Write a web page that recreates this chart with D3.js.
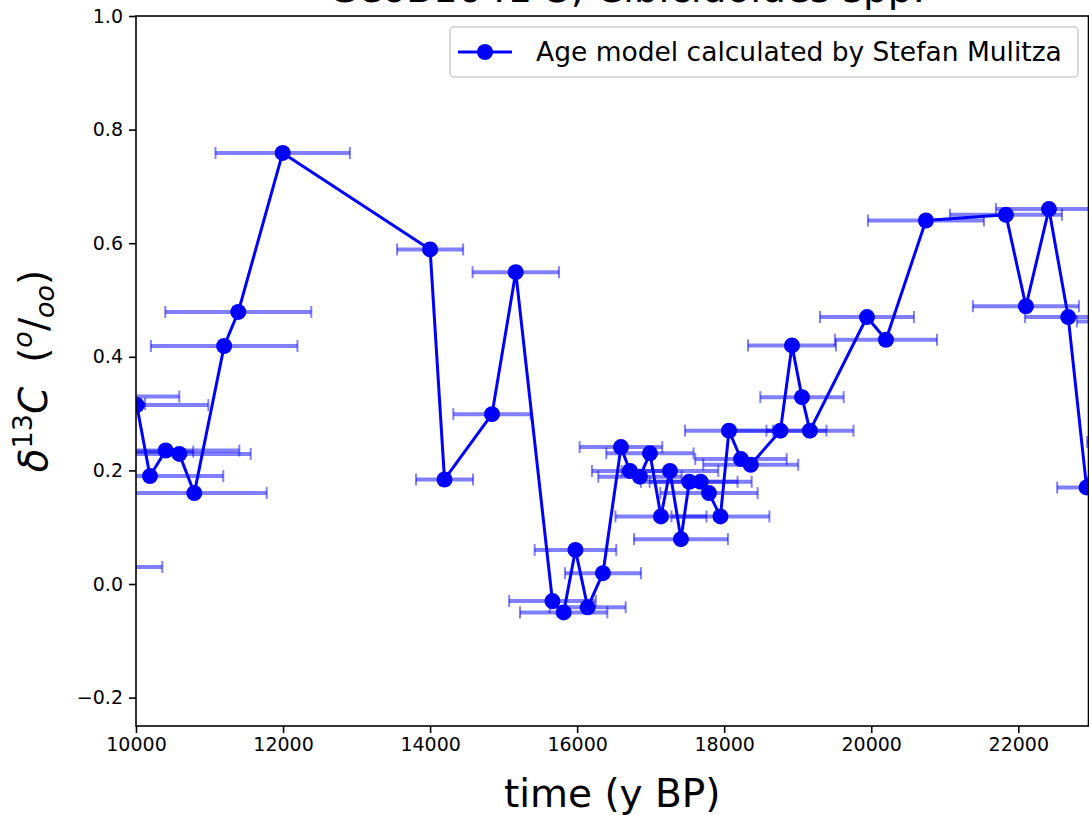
<!DOCTYPE html>
<html><head><meta charset="utf-8">
<script src="https://cdn.jsdelivr.net/npm/d3@7"></script>
<style>body{margin:0;background:#fff}svg{display:block}text{font-family:"DejaVu Sans",sans-serif}</style>
</head><body>
<svg id="c" width="1089" height="815"></svg>
<script>
// ---- data ----
const ageYears = [9143, 9378, 9609, 9799,
  10010, 10190, 10404, 10589, 10793, 11199, 11391, 11995, 14000, 14196, 14842, 15165,
  15664, 15817, 15977, 16143, 16351, 16596, 16718, 16854, 16990, 17140, 17262, 17412,
  17525, 17680, 17793, 17949, 18065, 18228, 18361, 18765, 18922, 19058, 19166, 19942,
  20200, 20744, 21832, 22104, 22417, 22679, 22929,
  23476, 23547];
const d13C = [0.317, 0.030, 0.330, 0.233,
  0.315, 0.190, 0.235, 0.229, 0.160, 0.419, 0.479, 0.759, 0.589, 0.184, 0.299, 0.549,
  -0.030, -0.050, 0.060, -0.041, 0.019, 0.241, 0.199, 0.189, 0.230, 0.119, 0.199, 0.079,
  0.180, 0.180, 0.160, 0.119, 0.270, 0.220, 0.210, 0.270, 0.420, 0.329, 0.270, 0.470,
  0.430, 0.640, 0.650, 0.489, 0.660, 0.470, 0.170,
  0.462, 0.250];
const ageErr = [980, 980, 980, 980,
  974, 997, 1001, 971, 985, 997, 993, 914, 449, 388, 526, 588,
  589, 594, 555, 517, 517, 562, 517, 567, 594, 619, 657, 639,
  657, 694, 662, 666, 598, 622, 646, 626, 598, 567, 592, 639,
  694, 789, 762, 721, 721, 589, 400,
  680, 610];
const xTicks = [10000, 12000, 14000, 16000, 18000, 20000, 22000];
const yTicks = [-0.2, 0.0, 0.2, 0.4, 0.6, 0.8, 1.0];
const xDomain = [10000, 22955];
const yDomain = [-0.25, 1.0];
const titleText = "GeoB1041-3, Cibicidoides spp.";
const xLabel = "time (y BP)";
const legendLabel = "Age model calculated by Stefan Mulitza";

// ---- layout ----
const L = 136, T = 16, R = 1088.5, B = 726;
const svg = d3.select("#c");
const x = d3.scaleLinear().domain(xDomain).range([L, R]);
const y = d3.scaleLinear().domain(yDomain).range([B, T]);
const data = ageYears.map((t, i) => ({t, v: d13C[i], e: ageErr[i]}));

svg.append("clipPath").attr("id", "clip").append("rect")
  .attr("x", L).attr("y", T).attr("width", R - L).attr("height", B - T);

const g = svg.append("g").attr("clip-path", "url(#clip)");
const blue = "#0000ff";
// error bars
const eb = g.append("g").attr("stroke", blue).attr("stroke-opacity", 0.5);
eb.selectAll("line.bar").data(data).join("line").attr("class", "bar")
  .attr("x1", d => x(d.t - d.e)).attr("x2", d => x(d.t + d.e))
  .attr("y1", d => y(d.v)).attr("y2", d => y(d.v)).attr("stroke-width", 4);
["lo", "hi"].forEach(k => {
  eb.selectAll("line.cap" + k).data(data).join("line").attr("class", "cap" + k)
    .attr("x1", d => x(k === "lo" ? d.t - d.e : d.t + d.e))
    .attr("x2", d => x(k === "lo" ? d.t - d.e : d.t + d.e))
    .attr("y1", d => y(d.v) - 6).attr("y2", d => y(d.v) + 6).attr("stroke-width", 2);
});
// line + markers
g.append("path").datum(data)
  .attr("d", d3.line().x(d => x(d.t)).y(d => y(d.v)))
  .attr("fill", "none").attr("stroke", blue).attr("stroke-width", 3).attr("stroke-linejoin", "round");
g.selectAll("circle").data(data).join("circle")
  .attr("cx", d => x(d.t)).attr("cy", d => y(d.v)).attr("r", 8).attr("fill", blue);

// axes
const xa = svg.append("g").attr("transform", `translate(0,${B})`)
  .call(d3.axisBottom(x).tickValues(xTicks).tickFormat(d3.format("d")).tickSize(7).tickPadding(5));
const ya = svg.append("g").attr("transform", `translate(${L},0)`)
  .call(d3.axisLeft(y).tickValues(yTicks).tickFormat(d3.format(".1f")).tickSize(7).tickPadding(6));
[xa, ya].forEach(a => {
  a.select(".domain").remove();
  a.selectAll(".tick line").attr("stroke", "#000").attr("stroke-width", 1.6);
  a.selectAll(".tick text").attr("fill", "#000").attr("font-size", 19)
    .attr("font-family", '"DejaVu Sans",sans-serif');
});
// frame
svg.append("rect").attr("x", L).attr("y", T).attr("width", R - L).attr("height", B - T)
  .attr("fill", "none").attr("stroke", "#000").attr("stroke-width", 1.6);

// title (mostly cut off at the top, as in the reference)
svg.append("text").attr("x", 328).attr("y", 2).attr("font-size", 39)
  .attr("text-anchor", "start").text(titleText);

// x label
svg.append("text").attr("x", (L + R) / 2).attr("y", 807).attr("font-size", 39)
  .attr("text-anchor", "middle").text(xLabel);

// y label
const yl = svg.append("text").attr("transform", `translate(47,${(T + B) / 2}) rotate(-90)`)
  .attr("font-size", 39).attr("text-anchor", "middle");
yl.append("tspan").attr("font-style", "italic").text("δ");
yl.append("tspan").attr("font-size", 27).attr("dy", -15).text("13");
yl.append("tspan").attr("font-style", "italic").attr("dy", 15).text("C");
yl.append("tspan").attr("dx", 24).text("(");
yl.append("tspan").attr("font-style", "italic").attr("font-size", 27).attr("dy", -15).text("o");
yl.append("tspan").attr("dy", 15).text("/");
yl.append("tspan").attr("font-style", "italic").attr("font-size", 27).attr("dy", 7).text("oo");
yl.append("tspan").attr("dy", -7).text(")");

// legend
const lg = svg.append("g");
lg.append("rect").attr("x", 450).attr("y", 27).attr("width", 628).attr("height", 50).attr("rx", 4)
  .attr("fill", "#fff").attr("fill-opacity", 0.8).attr("stroke", "#cccccc").attr("stroke-width", 1.5);
lg.append("line").attr("x1", 458).attr("x2", 512).attr("y1", 52).attr("y2", 52)
  .attr("stroke", blue).attr("stroke-width", 3);
lg.append("circle").attr("cx", 485).attr("cy", 52).attr("r", 8).attr("fill", blue);
lg.append("text").attr("x", 536).attr("y", 61).attr("font-size", 26.5).text(legendLabel);
</script>
</body></html>
